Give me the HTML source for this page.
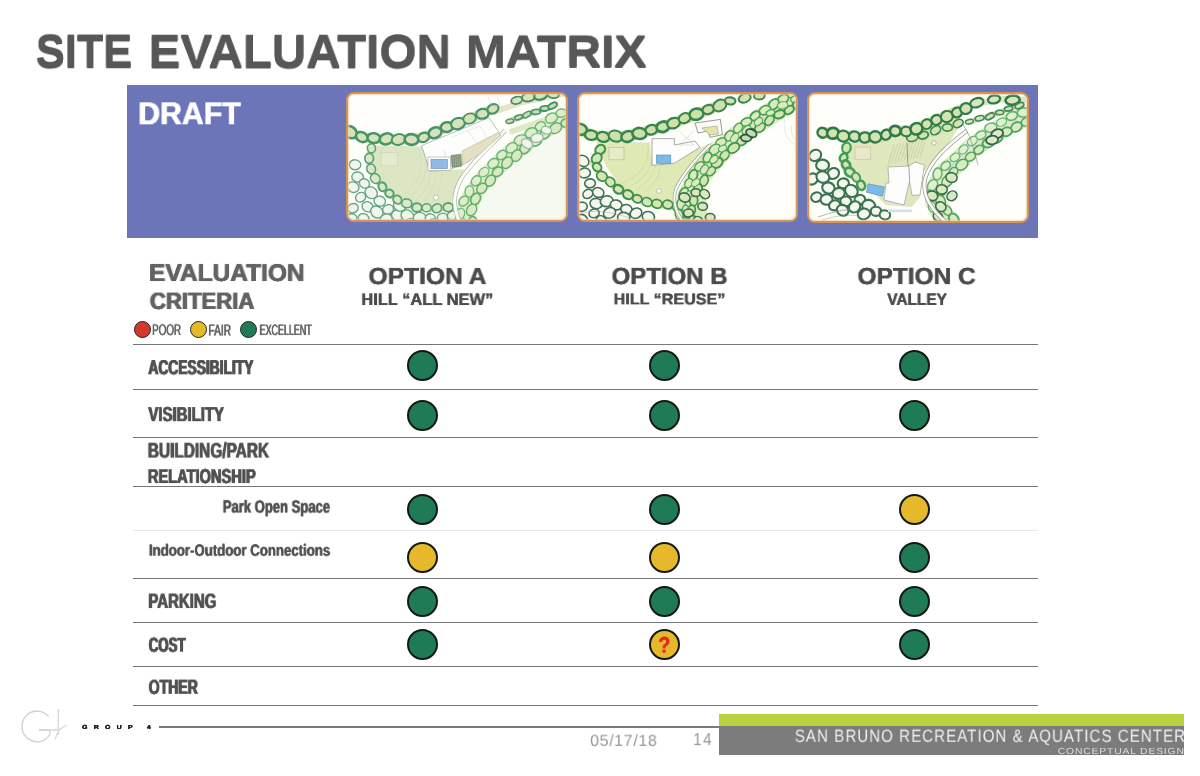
<!DOCTYPE html>
<html lang="en">
<head>
<meta charset="utf-8">
<title>Site Evaluation Matrix</title>
<style>
html,body{margin:0;padding:0;background:#ffffff;}
body{width:1200px;height:776px;overflow:hidden;font-family:"Liberation Sans",sans-serif;}
#page{position:relative;width:1200px;height:776px;background:#ffffff;overflow:hidden;}
.t{position:absolute;white-space:pre;line-height:1;transform-origin:0 0;font-family:"Liberation Sans",sans-serif;will-change:transform;text-rendering:geometricPrecision;}
.banner{position:absolute;left:126.7px;top:84.7px;width:911px;height:153px;background:#6b75b7;}
.thumb{position:absolute;width:221.8px;height:130.4px;box-sizing:border-box;border:2.4px solid #d3945c;border-radius:8px;background:#fefefb;overflow:hidden;}
.thumb:after{content:"";position:absolute;left:0;top:0;right:0;bottom:0;border-radius:5.6px;box-shadow:inset 0 0 1.6px 0.8px #f3d2a0;}
.hl{position:absolute;left:132.5px;width:905.5px;height:1.3px;background:#777777;}
.hl.faint{background:#e8e8e8;height:1px;}
.dot{position:absolute;width:31px;height:31px;box-sizing:border-box;border-radius:50%;border:2.2px solid #111a14;}
.g{background:#1f7b55;}
.y{background:#e6b92d;}
.r{background:#d2382c;}
.ldot{position:absolute;width:17.2px;height:17.2px;box-sizing:border-box;border-radius:50%;border:1.7px solid #24241a;}
</style>
</head>
<body>
<div id="page">
<div class="banner"></div>
<div class="thumb" style="left:346.3px;top:91.8px">
<svg style="position:absolute;left:-8.7px;top:-9.2px;filter:blur(0.35px)" width="240" height="145" viewBox="0 0 1200 725">
<polygon points="870,300 1140,150 1140,690 640,690 700,560 780,440" fill="#f5f9ef" stroke="none" stroke-width="0" />
<polygon points="130,300 432,308 452,432 620,420 600,480 565,560 548,612 470,626 364,610 250,550 182,445 140,360" fill="#dde6c3" stroke="none" stroke-width="0" />
<path d="M400 330 Q430 470 300 565" fill="none" stroke="#c6d1b2" stroke-width="2" stroke-linecap="butt" />
<path d="M428 340 Q452 480 340 571" fill="none" stroke="#c6d1b2" stroke-width="2" stroke-linecap="butt" />
<path d="M456 350 Q474 490 380 577" fill="none" stroke="#c6d1b2" stroke-width="2" stroke-linecap="butt" />
<path d="M484 360 Q496 500 420 583" fill="none" stroke="#c6d1b2" stroke-width="2" stroke-linecap="butt" />
<path d="M512 370 Q518 510 460 589" fill="none" stroke="#c6d1b2" stroke-width="2" stroke-linecap="butt" />
<path d="M50 238 L100 256 L160 268 L230 273 L300 274 L370 270 L420 258 L470 240 L520 218 L570 198 L620 180 L680 155 L730 135 L765 118" fill="none" stroke="#d3e1b8" stroke-width="50" stroke-linecap="round" stroke-linejoin="round" opacity="1"/>
<path d="M1120 168 L1060 195 L980 250 L900 310 L830 365 L770 420 L715 475 L672 535 L640 595 L625 650 L640 690" fill="none" stroke="#deebcc" stroke-width="96" stroke-linecap="round" stroke-linejoin="round" opacity="1"/>
<path d="M770 135 L900 88 L1110 45" fill="none" stroke="#e6e4c8" stroke-width="30" stroke-linecap="round" stroke-linejoin="round" opacity="1"/>
<path d="M850 180 L950 143 L1065 105" fill="none" stroke="#cbdbb0" stroke-width="30" stroke-linecap="round" stroke-linejoin="round" opacity="1"/>
<path d="M860 232 L980 190 L1125 140" fill="none" stroke="#dcebc6" stroke-width="30" stroke-linecap="round" stroke-linejoin="round" opacity="1"/>
<ellipse cx="75.5" cy="398.8" rx="28.7" ry="24.7" transform="rotate(4.8 75.5 398.8)" fill="#f1f6ea" stroke="#68a684" stroke-width="7"/>
<ellipse cx="88.1" cy="460.1" rx="29.1" ry="25" transform="rotate(7 88.1 460.1)" fill="#f1f6ea" stroke="#68a684" stroke-width="7"/>
<ellipse cx="65.6" cy="510.8" rx="29.9" ry="25.8" transform="rotate(23.4 65.6 510.8)" fill="#f1f6ea" stroke="#68a684" stroke-width="7"/>
<ellipse cx="122.2" cy="492.3" rx="26.2" ry="22.5" transform="rotate(24.8 122.2 492.3)" fill="#f1f6ea" stroke="#68a684" stroke-width="7"/>
<ellipse cx="155.9" cy="538.7" rx="32.4" ry="27.9" transform="rotate(37.2 155.9 538.7)" fill="#f1f6ea" stroke="#68a684" stroke-width="7"/>
<ellipse cx="103.2" cy="561.4" rx="26.6" ry="22.9" transform="rotate(-38.8 103.2 561.4)" fill="#f1f6ea" stroke="#68a684" stroke-width="7"/>
<ellipse cx="65.2" cy="615.8" rx="26.8" ry="23.1" transform="rotate(-20.6 65.2 615.8)" fill="#f1f6ea" stroke="#68a684" stroke-width="7"/>
<ellipse cx="138.1" cy="608.8" rx="28.6" ry="24.6" transform="rotate(27.4 138.1 608.8)" fill="#f1f6ea" stroke="#68a684" stroke-width="7"/>
<ellipse cx="198.7" cy="580.7" rx="29" ry="25" transform="rotate(13 198.7 580.7)" fill="#f1f6ea" stroke="#68a684" stroke-width="7"/>
<ellipse cx="184" cy="635.2" rx="32.5" ry="28" transform="rotate(39.7 184 635.2)" fill="#f1f6ea" stroke="#68a684" stroke-width="7"/>
<ellipse cx="240.7" cy="622.4" rx="27.7" ry="23.9" transform="rotate(-21.6 240.7 622.4)" fill="#f1f6ea" stroke="#68a684" stroke-width="7"/>
<ellipse cx="288.1" cy="650.3" rx="30.9" ry="26.6" transform="rotate(-8 288.1 650.3)" fill="#f1f6ea" stroke="#68a684" stroke-width="7"/>
<ellipse cx="337" cy="653.3" rx="32.2" ry="27.7" transform="rotate(27.8 337 653.3)" fill="#f1f6ea" stroke="#68a684" stroke-width="7"/>
<ellipse cx="397.9" cy="664.4" rx="31.9" ry="27.5" transform="rotate(-2.4 397.9 664.4)" fill="#f1f6ea" stroke="#68a684" stroke-width="7"/>
<ellipse cx="451.7" cy="666.6" rx="26" ry="22.4" transform="rotate(10.4 451.7 666.6)" fill="#f1f6ea" stroke="#68a684" stroke-width="7"/>
<ellipse cx="512.8" cy="663.5" rx="26.1" ry="22.5" transform="rotate(-13.4 512.8 663.5)" fill="#f1f6ea" stroke="#68a684" stroke-width="7"/>
<ellipse cx="562.6" cy="652.4" rx="26.3" ry="22.7" transform="rotate(-20.3 562.6 652.4)" fill="#f1f6ea" stroke="#68a684" stroke-width="7"/>
<ellipse cx="230.4" cy="671.7" rx="31.1" ry="26.8" transform="rotate(-25.8 230.4 671.7)" fill="#f1f6ea" stroke="#68a684" stroke-width="7"/>
<ellipse cx="117.8" cy="665.9" rx="26.8" ry="23.1" transform="rotate(18.6 117.8 665.9)" fill="#f1f6ea" stroke="#68a684" stroke-width="7"/>
<ellipse cx="58.3" cy="666.6" rx="26.3" ry="22.7" transform="rotate(-6.3 58.3 666.6)" fill="#f1f6ea" stroke="#68a684" stroke-width="7"/>
<ellipse cx="298.8" cy="602.3" rx="32.3" ry="27.8" transform="rotate(24.3 298.8 602.3)" fill="#f1f6ea" stroke="#68a684" stroke-width="7"/>
<ellipse cx="352.1" cy="690.9" rx="27" ry="23.3" transform="rotate(-8.5 352.1 690.9)" fill="#f1f6ea" stroke="#68a684" stroke-width="7"/>
<ellipse cx="468.3" cy="693.5" rx="26.2" ry="22.6" transform="rotate(39.1 468.3 693.5)" fill="#f1f6ea" stroke="#68a684" stroke-width="7"/>
<path d="M155 318 L145 370 L152 420 L180 465 L212 508 L252 548 L305 582 L364 606 L425 618 L486 618 L538 608" fill="none" stroke="#d9e6c3" stroke-width="36" stroke-linecap="round" stroke-linejoin="round" opacity="1"/>
<ellipse cx="157.2" cy="316.6" rx="22.8" ry="20" transform="rotate(83.8 157.2 316.6)" fill="#dbe8c6" stroke="#58a375" stroke-width="7.5"/>
<ellipse cx="145.9" cy="366.8" rx="24.6" ry="21.5" transform="rotate(95.8 145.9 366.8)" fill="#dbe8c6" stroke="#58a375" stroke-width="8.8"/>
<ellipse cx="155.7" cy="419.9" rx="24.4" ry="21.4" transform="rotate(72.8 155.7 419.9)" fill="#dbe8c6" stroke="#58a375" stroke-width="7.9"/>
<ellipse cx="176.6" cy="467.3" rx="25.8" ry="22.6" transform="rotate(48.1 176.6 467.3)" fill="#dbe8c6" stroke="#58a375" stroke-width="7.9"/>
<ellipse cx="212.1" cy="509.1" rx="22.3" ry="19.5" transform="rotate(71.3 212.1 509.1)" fill="#dbe8c6" stroke="#58a375" stroke-width="10.4"/>
<ellipse cx="247.3" cy="541.9" rx="21.7" ry="19" transform="rotate(26.5 247.3 541.9)" fill="#dbe8c6" stroke="#58a375" stroke-width="10.7"/>
<ellipse cx="286.9" cy="573.4" rx="22.6" ry="19.8" transform="rotate(45.6 286.9 573.4)" fill="#dbe8c6" stroke="#58a375" stroke-width="9.3"/>
<ellipse cx="333.7" cy="591.7" rx="25.3" ry="22.1" transform="rotate(4.9 333.7 591.7)" fill="#dbe8c6" stroke="#58a375" stroke-width="8"/>
<ellipse cx="384.9" cy="612.8" rx="24.7" ry="21.6" transform="rotate(2.3 384.9 612.8)" fill="#dbe8c6" stroke="#58a375" stroke-width="10.5"/>
<ellipse cx="433.1" cy="614.1" rx="22.7" ry="19.8" transform="rotate(-2.2 433.1 614.1)" fill="#dbe8c6" stroke="#58a375" stroke-width="7.4"/>
<ellipse cx="484.6" cy="616.7" rx="24.4" ry="21.4" transform="rotate(-25.6 484.6 616.7)" fill="#dbe8c6" stroke="#58a375" stroke-width="8.5"/>
<ellipse cx="541.1" cy="611.8" rx="24.9" ry="21.8" transform="rotate(-3.2 541.1 611.8)" fill="#dbe8c6" stroke="#58a375" stroke-width="9.3"/>
<ellipse cx="1106.5" cy="140.6" rx="26.5" ry="20.3" transform="rotate(172.1 1106.5 140.6)" fill="#dfedca" stroke="#6db877" stroke-width="7.6"/>
<ellipse cx="1057.6" cy="165.6" rx="31" ry="23.8" transform="rotate(154.9 1057.6 165.6)" fill="#dfedca" stroke="#6db877" stroke-width="7.6"/>
<ellipse cx="1001.6" cy="206.7" rx="26.9" ry="20.7" transform="rotate(147.4 1001.6 206.7)" fill="#dfedca" stroke="#6db877" stroke-width="7.7"/>
<ellipse cx="956.4" cy="239.5" rx="31.5" ry="24.1" transform="rotate(154.9 956.4 239.5)" fill="#dfedca" stroke="#6db877" stroke-width="8.2"/>
<ellipse cx="903.3" cy="275.6" rx="32.9" ry="25.2" transform="rotate(158 903.3 275.6)" fill="#dfedca" stroke="#6db877" stroke-width="6.8"/>
<ellipse cx="858.6" cy="314.2" rx="30.5" ry="23.4" transform="rotate(146.8 858.6 314.2)" fill="#dfedca" stroke="#6db877" stroke-width="6.7"/>
<ellipse cx="809.3" cy="350.2" rx="27" ry="20.7" transform="rotate(143.1 809.3 350.2)" fill="#dfedca" stroke="#6db877" stroke-width="8.4"/>
<ellipse cx="766.8" cy="392.3" rx="29.2" ry="22.4" transform="rotate(146.9 766.8 392.3)" fill="#dfedca" stroke="#6db877" stroke-width="7.2"/>
<ellipse cx="719.8" cy="435.7" rx="27" ry="20.7" transform="rotate(145 719.8 435.7)" fill="#dfedca" stroke="#6db877" stroke-width="5.7"/>
<ellipse cx="681.2" cy="478.6" rx="28.1" ry="21.5" transform="rotate(133.6 681.2 478.6)" fill="#dfedca" stroke="#6db877" stroke-width="7"/>
<ellipse cx="646.8" cy="532.2" rx="28.2" ry="21.7" transform="rotate(98.5 646.8 532.2)" fill="#dfedca" stroke="#6db877" stroke-width="6.4"/>
<ellipse cx="618.7" cy="580.2" rx="27.6" ry="21.2" transform="rotate(134.2 618.7 580.2)" fill="#dfedca" stroke="#6db877" stroke-width="7.4"/>
<ellipse cx="600.8" cy="644.4" rx="28.8" ry="22" transform="rotate(111.3 600.8 644.4)" fill="#dfedca" stroke="#6db877" stroke-width="6.2"/>
<ellipse cx="615.1" cy="701.6" rx="33" ry="25.3" transform="rotate(86.5 615.1 701.6)" fill="#dfedca" stroke="#6db877" stroke-width="6.7"/>
<ellipse cx="1130.5" cy="188.4" rx="26.5" ry="20.1" transform="rotate(155.8 1130.5 188.4)" fill="#d9e9c0" stroke="#60ae6b" stroke-width="9.1"/>
<ellipse cx="1078.1" cy="216" rx="32.1" ry="24.4" transform="rotate(147 1078.1 216)" fill="#d9e9c0" stroke="#60ae6b" stroke-width="6.9"/>
<ellipse cx="1025.4" cy="245.8" rx="27" ry="20.5" transform="rotate(142 1025.4 245.8)" fill="#d9e9c0" stroke="#60ae6b" stroke-width="8.4"/>
<ellipse cx="977.1" cy="280.7" rx="31.4" ry="23.8" transform="rotate(162.4 977.1 280.7)" fill="#d9e9c0" stroke="#60ae6b" stroke-width="7.8"/>
<ellipse cx="925.9" cy="314.3" rx="31.6" ry="24" transform="rotate(124.8 925.9 314.3)" fill="#d9e9c0" stroke="#60ae6b" stroke-width="8.7"/>
<ellipse cx="882.7" cy="353" rx="31" ry="23.5" transform="rotate(122.6 882.7 353)" fill="#d9e9c0" stroke="#60ae6b" stroke-width="6.8"/>
<ellipse cx="835.4" cy="388.4" rx="31.3" ry="23.7" transform="rotate(127 835.4 388.4)" fill="#d9e9c0" stroke="#60ae6b" stroke-width="6.9"/>
<ellipse cx="788.1" cy="433.6" rx="28.6" ry="21.7" transform="rotate(142.7 788.1 433.6)" fill="#d9e9c0" stroke="#60ae6b" stroke-width="8.5"/>
<ellipse cx="751.7" cy="478.3" rx="30.3" ry="23" transform="rotate(123 751.7 478.3)" fill="#d9e9c0" stroke="#60ae6b" stroke-width="7.9"/>
<ellipse cx="709.1" cy="516.8" rx="28.8" ry="21.9" transform="rotate(134.2 709.1 516.8)" fill="#d9e9c0" stroke="#60ae6b" stroke-width="7"/>
<ellipse cx="678" cy="569.9" rx="30.4" ry="23" transform="rotate(119 678 569.9)" fill="#d9e9c0" stroke="#60ae6b" stroke-width="8.4"/>
<ellipse cx="658.1" cy="624.7" rx="31" ry="23.5" transform="rotate(122.3 658.1 624.7)" fill="#d9e9c0" stroke="#60ae6b" stroke-width="6.7"/>
<ellipse cx="665.9" cy="683.4" rx="26.4" ry="20" transform="rotate(65 665.9 683.4)" fill="#d9e9c0" stroke="#60ae6b" stroke-width="8.4"/>
<ellipse cx="985.4" cy="264.3" rx="30.8" ry="22" transform="rotate(-9.9 985.4 264.3)" fill="#f1f6ea" stroke="#8fb59a" stroke-width="6"/>
<ellipse cx="934.8" cy="292.9" rx="30" ry="21.4" transform="rotate(35.5 934.8 292.9)" fill="#f1f6ea" stroke="#8fb59a" stroke-width="6"/>
<ellipse cx="1031.9" cy="225.8" rx="26" ry="18.6" transform="rotate(17.8 1031.9 225.8)" fill="#f1f6ea" stroke="#8fb59a" stroke-width="6"/>
<path d="M826 226 C760 300 640 400 600 480 C570 540 560 600 600 690" fill="none" stroke="#9fa8a0" stroke-width="22" stroke-linecap="butt" />
<path d="M826 226 C760 300 640 400 600 480 C570 540 560 600 600 690" fill="none" stroke="#fdfdf8" stroke-width="16" stroke-linecap="butt" />
<polygon points="408,303 745,163 803,250 640,385 548,424 450,432" fill="#fdfdfb" stroke="#8e9690" stroke-width="3" />
<polygon points="610,330 790,238 803,252 700,345 615,400" fill="#e4e1c2" stroke="#9a9f90" stroke-width="2" />
<path d="M520 330 L540 395" fill="none" stroke="#b5bbb5" stroke-width="2" stroke-linejoin="round" stroke-linecap="round" />
<path d="M560 260 L700 205 L740 270" fill="none" stroke="#c9cec9" stroke-width="2" stroke-linejoin="round" stroke-linecap="round" />
<path d="M640 230 L690 300" fill="none" stroke="#c9cec9" stroke-width="2" stroke-linejoin="round" stroke-linecap="round" />
<rect x="440" y="360" width="112" height="68" fill="#fdfdfb" stroke="#8e9690" stroke-width="2.5"/>
<rect x="455" y="372" width="82" height="46" fill="#8ebae4" stroke="#6d8fae" stroke-width="3"/>
<polygon points="555,352 605,345 610,405 560,412" fill="#9fb08f" stroke="#5c6b58" stroke-width="2" />
<path d="M560 352 L562 410" fill="none" stroke="#4f5b4b" stroke-width="2" stroke-linejoin="round" stroke-linecap="round" />
<path d="M570 352 L572 410" fill="none" stroke="#4f5b4b" stroke-width="2" stroke-linejoin="round" stroke-linecap="round" />
<path d="M580 352 L582 410" fill="none" stroke="#4f5b4b" stroke-width="2" stroke-linejoin="round" stroke-linecap="round" />
<path d="M590 352 L592 410" fill="none" stroke="#4f5b4b" stroke-width="2" stroke-linejoin="round" stroke-linecap="round" />
<path d="M600 352 L602 410" fill="none" stroke="#4f5b4b" stroke-width="2" stroke-linejoin="round" stroke-linecap="round" />
<ellipse cx="51.7" cy="235.7" rx="35.1" ry="27.4" transform="rotate(39 51.7 235.7)" fill="#d6e3ba" stroke="#48946a" stroke-width="13.1"/>
<ellipse cx="109.4" cy="260.1" rx="30.6" ry="23.9" transform="rotate(27.7 109.4 260.1)" fill="#d6e3ba" stroke="#48946a" stroke-width="12.6"/>
<ellipse cx="169.2" cy="265.4" rx="31.5" ry="24.6" transform="rotate(6.1 169.2 265.4)" fill="#d6e3ba" stroke="#48946a" stroke-width="12.2"/>
<ellipse cx="232.5" cy="269.3" rx="34.4" ry="26.9" transform="rotate(-16.6 232.5 269.3)" fill="#d6e3ba" stroke="#48946a" stroke-width="12.3"/>
<ellipse cx="292.4" cy="272.6" rx="34.2" ry="26.7" transform="rotate(-13.6 292.4 272.6)" fill="#d6e3ba" stroke="#48946a" stroke-width="9.5"/>
<ellipse cx="357.4" cy="272.5" rx="34.6" ry="27" transform="rotate(4.3 357.4 272.5)" fill="#d6e3ba" stroke="#48946a" stroke-width="13"/>
<ellipse cx="418.2" cy="262" rx="28.8" ry="22.5" transform="rotate(-24.6 418.2 262)" fill="#d6e3ba" stroke="#48946a" stroke-width="11.1"/>
<ellipse cx="475.2" cy="238.8" rx="33.1" ry="25.8" transform="rotate(-22.8 475.2 238.8)" fill="#d6e3ba" stroke="#48946a" stroke-width="12.5"/>
<ellipse cx="534.6" cy="210.8" rx="31.1" ry="24.3" transform="rotate(-8 534.6 210.8)" fill="#d6e3ba" stroke="#48946a" stroke-width="12.8"/>
<ellipse cx="590" cy="192.8" rx="35.6" ry="27.8" transform="rotate(-18.8 590 192.8)" fill="#d6e3ba" stroke="#48946a" stroke-width="11.3"/>
<ellipse cx="648.1" cy="167.6" rx="32" ry="25" transform="rotate(-18.4 648.1 167.6)" fill="#d6e3ba" stroke="#48946a" stroke-width="8.9"/>
<ellipse cx="712" cy="143.8" rx="31.2" ry="24.4" transform="rotate(-9.8 712 143.8)" fill="#d6e3ba" stroke="#48946a" stroke-width="11.3"/>
<ellipse cx="764.9" cy="119.5" rx="28.7" ry="22.4" transform="rotate(-24.4 764.9 119.5)" fill="#d6e3ba" stroke="#48946a" stroke-width="10.6"/>
<ellipse cx="883.7" cy="76.4" rx="28.3" ry="17.9" transform="rotate(-14.9 883.7 76.4)" fill="#d9e5c0" stroke="#3f8e61" stroke-width="8.5"/>
<ellipse cx="941.9" cy="61.3" rx="32.9" ry="20.8" transform="rotate(-8.4 941.9 61.3)" fill="#d9e5c0" stroke="#3f8e61" stroke-width="9.3"/>
<ellipse cx="1003.5" cy="51.9" rx="33.1" ry="20.9" transform="rotate(-15.7 1003.5 51.9)" fill="#d9e5c0" stroke="#3f8e61" stroke-width="11.1"/>
<ellipse cx="1066.2" cy="47.6" rx="28" ry="17.8" transform="rotate(6.6 1066.2 47.6)" fill="#d9e5c0" stroke="#3f8e61" stroke-width="9.3"/>
<ellipse cx="848.8" cy="181" rx="19.9" ry="10.9" transform="rotate(-11.1 848.8 181)" fill="#cbdbb0" stroke="#47936a" stroke-width="6.8"/>
<ellipse cx="892.8" cy="162.2" rx="20.4" ry="11.1" transform="rotate(-19.1 892.8 162.2)" fill="#cbdbb0" stroke="#47936a" stroke-width="7.8"/>
<ellipse cx="934.4" cy="147.7" rx="22.2" ry="12.1" transform="rotate(-33.9 934.4 147.7)" fill="#cbdbb0" stroke="#47936a" stroke-width="7.1"/>
<ellipse cx="979.6" cy="134.7" rx="22.2" ry="12.1" transform="rotate(-4.2 979.6 134.7)" fill="#cbdbb0" stroke="#47936a" stroke-width="8.4"/>
<ellipse cx="1024.6" cy="117.2" rx="23.3" ry="12.7" transform="rotate(-5.9 1024.6 117.2)" fill="#cbdbb0" stroke="#47936a" stroke-width="9.3"/>
<ellipse cx="1063.5" cy="103.5" rx="24.2" ry="13.2" transform="rotate(-29.6 1063.5 103.5)" fill="#cbdbb0" stroke="#47936a" stroke-width="9.6"/>
<circle cx="480" cy="563" r="13" fill="#fdfdfb" stroke="#9aa59a" stroke-width="3"/>
<rect x="205" y="338" width="82" height="66" fill="#e6ead0" stroke="#d5c8bc" stroke-width="3"/>
<path d="M740 60 L760 110 L800 100 L785 55" fill="none" stroke="#c5cac5" stroke-width="2" stroke-linejoin="round" stroke-linecap="round" />
</svg>
</div>
<div class="thumb" style="left:576.6px;top:91.8px">
<svg style="position:absolute;left:-9.0px;top:-9.2px;filter:blur(0.35px)" width="240" height="145" viewBox="0 0 1200 725">
<polygon points="130,285 400,288 410,400 520,395 620,330 720,280 650,400 565,470 525,545 505,615 420,605 330,565 240,495 178,400" fill="#dfe9b6" stroke="none" stroke-width="0" />
<path d="M390 300 Q400 440 260 490" fill="none" stroke="#bccb98" stroke-width="2" stroke-linecap="butt" />
<path d="M414 314 Q420 450 300 504" fill="none" stroke="#bccb98" stroke-width="2" stroke-linecap="butt" />
<path d="M438 328 Q440 460 340 518" fill="none" stroke="#bccb98" stroke-width="2" stroke-linecap="butt" />
<path d="M462 342 Q460 470 380 532" fill="none" stroke="#bccb98" stroke-width="2" stroke-linecap="butt" />
<path d="M50 225 L110 250 L170 258 L230 258 L290 255 L350 240 L410 225 L470 205 L530 185 L590 165 L650 140 L700 120 L745 103" fill="none" stroke="#d3e3a6" stroke-width="54" stroke-linecap="round" stroke-linejoin="round" opacity="1"/>
<path d="M1125 68 L1060 108 L990 150 L915 200 L840 255 L770 315 L715 375 L665 435 L620 500 L590 565 L575 630 L590 690" fill="none" stroke="#dcebbc" stroke-width="110" stroke-linecap="round" stroke-linejoin="round" opacity="1"/>
<path d="M640 560 L650 690" fill="none" stroke="#dcebbc" stroke-width="80" stroke-linecap="round" stroke-linejoin="round" opacity="1"/>
<ellipse cx="64.4" cy="379.5" rx="32" ry="26.4" transform="rotate(35.9 64.4 379.5)" fill="#f3f7ec" stroke="#41705a" stroke-width="8"/>
<ellipse cx="72.2" cy="439.8" rx="29.6" ry="24.5" transform="rotate(-6.1 72.2 439.8)" fill="#f3f7ec" stroke="#41705a" stroke-width="8"/>
<ellipse cx="100.3" cy="491.7" rx="26.9" ry="22.2" transform="rotate(-4.4 100.3 491.7)" fill="#f3f7ec" stroke="#41705a" stroke-width="8"/>
<ellipse cx="89.3" cy="544.5" rx="25.7" ry="21.3" transform="rotate(-33.1 89.3 544.5)" fill="#f3f7ec" stroke="#41705a" stroke-width="8"/>
<ellipse cx="141.2" cy="537.3" rx="29.1" ry="24.1" transform="rotate(18.7 141.2 537.3)" fill="#f3f7ec" stroke="#41705a" stroke-width="8"/>
<ellipse cx="130.9" cy="592.7" rx="31" ry="25.6" transform="rotate(7.1 130.9 592.7)" fill="#f3f7ec" stroke="#41705a" stroke-width="8"/>
<ellipse cx="183.6" cy="581.2" rx="32.3" ry="26.7" transform="rotate(-11 183.6 581.2)" fill="#f3f7ec" stroke="#41705a" stroke-width="8"/>
<ellipse cx="230.9" cy="599.5" rx="29.5" ry="24.4" transform="rotate(12.8 230.9 599.5)" fill="#f3f7ec" stroke="#41705a" stroke-width="8"/>
<ellipse cx="282.5" cy="621.7" rx="28.8" ry="23.9" transform="rotate(17.4 282.5 621.7)" fill="#f3f7ec" stroke="#41705a" stroke-width="8"/>
<ellipse cx="330.1" cy="640.9" rx="30" ry="24.8" transform="rotate(-25.4 330.1 640.9)" fill="#f3f7ec" stroke="#41705a" stroke-width="8"/>
<ellipse cx="197.7" cy="639.6" rx="31.2" ry="25.8" transform="rotate(-24.4 197.7 639.6)" fill="#f3f7ec" stroke="#41705a" stroke-width="8"/>
<ellipse cx="120.4" cy="641.9" rx="25.8" ry="21.3" transform="rotate(-18 120.4 641.9)" fill="#f3f7ec" stroke="#41705a" stroke-width="8"/>
<ellipse cx="58.7" cy="608.8" rx="27.8" ry="23" transform="rotate(-10.4 58.7 608.8)" fill="#f3f7ec" stroke="#41705a" stroke-width="8"/>
<ellipse cx="268.6" cy="662.6" rx="30.9" ry="25.6" transform="rotate(3.9 268.6 662.6)" fill="#f3f7ec" stroke="#41705a" stroke-width="8"/>
<ellipse cx="392" cy="658.4" rx="31" ry="25.6" transform="rotate(16.6 392 658.4)" fill="#f3f7ec" stroke="#41705a" stroke-width="8"/>
<ellipse cx="60.6" cy="672.7" rx="29.3" ry="24.3" transform="rotate(33.5 60.6 672.7)" fill="#f3f7ec" stroke="#41705a" stroke-width="8"/>
<ellipse cx="157.3" cy="677.5" rx="26.7" ry="22.1" transform="rotate(38 157.3 677.5)" fill="#f3f7ec" stroke="#41705a" stroke-width="8"/>
<path d="M155 321 L118 388 L150 442 L198 485 L248 522 L300 552 L355 578 L420 594 L480 600 L535 612 L580 640" fill="none" stroke="#d5e6ae" stroke-width="40" stroke-linecap="round" stroke-linejoin="round" opacity="1"/>
<ellipse cx="151.2" cy="323.5" rx="26.1" ry="21.9" transform="rotate(137.9 151.2 323.5)" fill="#d5e6b0" stroke="#3f9150" stroke-width="11.2"/>
<ellipse cx="133.5" cy="366.8" rx="27.9" ry="23.5" transform="rotate(128.9 133.5 366.8)" fill="#d5e6b0" stroke="#3f9150" stroke-width="9.4"/>
<ellipse cx="135.7" cy="410.5" rx="23.2" ry="19.5" transform="rotate(42.4 135.7 410.5)" fill="#d5e6b0" stroke="#3f9150" stroke-width="9.9"/>
<ellipse cx="159.9" cy="456.5" rx="27.7" ry="23.3" transform="rotate(30.5 159.9 456.5)" fill="#d5e6b0" stroke="#3f9150" stroke-width="8.4"/>
<ellipse cx="201.5" cy="484.8" rx="25.3" ry="21.2" transform="rotate(49 201.5 484.8)" fill="#d5e6b0" stroke="#3f9150" stroke-width="9"/>
<ellipse cx="242.4" cy="521.5" rx="24.7" ry="20.7" transform="rotate(30.2 242.4 521.5)" fill="#d5e6b0" stroke="#3f9150" stroke-width="11.6"/>
<ellipse cx="290.1" cy="548" rx="26.1" ry="21.9" transform="rotate(26.5 290.1 548)" fill="#d5e6b0" stroke="#3f9150" stroke-width="10.8"/>
<ellipse cx="336.7" cy="569.2" rx="23.4" ry="19.7" transform="rotate(17.1 336.7 569.2)" fill="#d5e6b0" stroke="#3f9150" stroke-width="9.6"/>
<ellipse cx="385.1" cy="585.3" rx="25.3" ry="21.3" transform="rotate(26.9 385.1 585.3)" fill="#d5e6b0" stroke="#3f9150" stroke-width="8.4"/>
<ellipse cx="434.7" cy="594" rx="25.4" ry="21.3" transform="rotate(19.1 434.7 594)" fill="#d5e6b0" stroke="#3f9150" stroke-width="9"/>
<ellipse cx="488.9" cy="597.8" rx="25.4" ry="21.3" transform="rotate(14 488.9 597.8)" fill="#d5e6b0" stroke="#3f9150" stroke-width="8.9"/>
<ellipse cx="536.4" cy="612.3" rx="24.7" ry="20.7" transform="rotate(40.6 536.4 612.3)" fill="#d5e6b0" stroke="#3f9150" stroke-width="8"/>
<ellipse cx="579" cy="642.3" rx="22.9" ry="19.2" transform="rotate(46.6 579 642.3)" fill="#d5e6b0" stroke="#3f9150" stroke-width="8.8"/>
<ellipse cx="1110.7" cy="39.8" rx="27.7" ry="19.8" transform="rotate(145.3 1110.7 39.8)" fill="#dbebba" stroke="#45a058" stroke-width="6.7"/>
<ellipse cx="1065.3" cy="70.3" rx="29.3" ry="20.9" transform="rotate(150 1065.3 70.3)" fill="#dbebba" stroke="#45a058" stroke-width="8.2"/>
<ellipse cx="1018.2" cy="96.6" rx="30.7" ry="21.9" transform="rotate(132.5 1018.2 96.6)" fill="#dbebba" stroke="#45a058" stroke-width="9.2"/>
<ellipse cx="975" cy="125.9" rx="29.9" ry="21.3" transform="rotate(153.2 975 125.9)" fill="#dbebba" stroke="#45a058" stroke-width="8.3"/>
<ellipse cx="925.9" cy="154.1" rx="27" ry="19.3" transform="rotate(138.4 925.9 154.1)" fill="#dbebba" stroke="#45a058" stroke-width="9.5"/>
<ellipse cx="882.2" cy="185" rx="27.5" ry="19.6" transform="rotate(156.4 882.2 185)" fill="#dbebba" stroke="#45a058" stroke-width="7.9"/>
<ellipse cx="840.8" cy="215.6" rx="26.5" ry="18.9" transform="rotate(127.3 840.8 215.6)" fill="#dbebba" stroke="#45a058" stroke-width="7.1"/>
<ellipse cx="796.7" cy="253.8" rx="28" ry="20" transform="rotate(123.8 796.7 253.8)" fill="#dbebba" stroke="#45a058" stroke-width="7.9"/>
<ellipse cx="755" cy="286.4" rx="27.6" ry="19.7" transform="rotate(153.7 755 286.4)" fill="#dbebba" stroke="#45a058" stroke-width="7.2"/>
<ellipse cx="723.7" cy="322.2" rx="31.2" ry="22.3" transform="rotate(137.9 723.7 322.2)" fill="#dbebba" stroke="#45a058" stroke-width="6.5"/>
<ellipse cx="687.5" cy="362.3" rx="27.1" ry="19.3" transform="rotate(115.7 687.5 362.3)" fill="#dbebba" stroke="#45a058" stroke-width="9.1"/>
<ellipse cx="647.6" cy="407.1" rx="27.3" ry="19.5" transform="rotate(137 647.6 407.1)" fill="#dbebba" stroke="#45a058" stroke-width="7.3"/>
<ellipse cx="616" cy="451.7" rx="29" ry="20.7" transform="rotate(111.4 616 451.7)" fill="#dbebba" stroke="#45a058" stroke-width="9.5"/>
<ellipse cx="593.5" cy="490.6" rx="24.8" ry="17.7" transform="rotate(119.2 593.5 490.6)" fill="#dbebba" stroke="#45a058" stroke-width="6.8"/>
<ellipse cx="569.7" cy="541.5" rx="29.4" ry="21" transform="rotate(117.5 569.7 541.5)" fill="#dbebba" stroke="#45a058" stroke-width="8.9"/>
<ellipse cx="555.8" cy="593.8" rx="28.6" ry="20.4" transform="rotate(95.6 555.8 593.8)" fill="#dbebba" stroke="#45a058" stroke-width="6.8"/>
<ellipse cx="545.3" cy="648" rx="26" ry="18.6" transform="rotate(73.8 545.3 648)" fill="#dbebba" stroke="#45a058" stroke-width="7.4"/>
<ellipse cx="561.9" cy="697.5" rx="30.4" ry="21.7" transform="rotate(74.1 561.9 697.5)" fill="#dbebba" stroke="#45a058" stroke-width="7.6"/>
<ellipse cx="1140.9" cy="93.8" rx="30.9" ry="22" transform="rotate(140.9 1140.9 93.8)" fill="#d3e6ae" stroke="#3d9550" stroke-width="10.4"/>
<ellipse cx="1096" cy="124.9" rx="25.5" ry="18.2" transform="rotate(143.6 1096 124.9)" fill="#d3e6ae" stroke="#3d9550" stroke-width="10"/>
<ellipse cx="1047.1" cy="146.3" rx="27.3" ry="19.5" transform="rotate(158 1047.1 146.3)" fill="#d3e6ae" stroke="#3d9550" stroke-width="9.9"/>
<ellipse cx="997.1" cy="176.8" rx="27.4" ry="19.6" transform="rotate(128.7 997.1 176.8)" fill="#d3e6ae" stroke="#3d9550" stroke-width="8.3"/>
<ellipse cx="949.9" cy="212.6" rx="28.6" ry="20.4" transform="rotate(142.9 949.9 212.6)" fill="#d3e6ae" stroke="#3d9550" stroke-width="8.1"/>
<ellipse cx="903.4" cy="243.5" rx="27.6" ry="19.7" transform="rotate(130.7 903.4 243.5)" fill="#d3e6ae" stroke="#3d9550" stroke-width="10.2"/>
<ellipse cx="860.5" cy="278.9" rx="28.2" ry="20.2" transform="rotate(148.7 860.5 278.9)" fill="#d3e6ae" stroke="#3d9550" stroke-width="8.7"/>
<ellipse cx="818.2" cy="314.6" rx="31.2" ry="22.3" transform="rotate(145.9 818.2 314.6)" fill="#d3e6ae" stroke="#3d9550" stroke-width="8.7"/>
<ellipse cx="773.1" cy="351.9" rx="27.3" ry="19.5" transform="rotate(127.8 773.1 351.9)" fill="#d3e6ae" stroke="#3d9550" stroke-width="7.4"/>
<ellipse cx="735.2" cy="389.4" rx="31.2" ry="22.3" transform="rotate(142.1 735.2 389.4)" fill="#d3e6ae" stroke="#3d9550" stroke-width="9.8"/>
<ellipse cx="704.4" cy="431.2" rx="25.8" ry="18.4" transform="rotate(133.9 704.4 431.2)" fill="#d3e6ae" stroke="#3d9550" stroke-width="7.4"/>
<ellipse cx="670.2" cy="477.7" rx="28.3" ry="20.2" transform="rotate(109.6 670.2 477.7)" fill="#d3e6ae" stroke="#3d9550" stroke-width="7.4"/>
<ellipse cx="639.2" cy="521.5" rx="29" ry="20.7" transform="rotate(107.2 639.2 521.5)" fill="#d3e6ae" stroke="#3d9550" stroke-width="9.4"/>
<ellipse cx="618.2" cy="575.9" rx="28.2" ry="20.2" transform="rotate(91.4 618.2 575.9)" fill="#d3e6ae" stroke="#3d9550" stroke-width="8.4"/>
<ellipse cx="607" cy="627.4" rx="26.6" ry="19" transform="rotate(103.3 607 627.4)" fill="#d3e6ae" stroke="#3d9550" stroke-width="9.2"/>
<ellipse cx="619.5" cy="681.6" rx="31.1" ry="22.2" transform="rotate(56 619.5 681.6)" fill="#d3e6ae" stroke="#3d9550" stroke-width="10"/>
<ellipse cx="1124.5" cy="69.5" rx="22" ry="14.7" transform="rotate(156 1124.5 69.5)" fill="#dcebbc" stroke="#4aa65c" stroke-width="7.1"/>
<ellipse cx="1063.2" cy="101.4" rx="26.4" ry="17.6" transform="rotate(167.2 1063.2 101.4)" fill="#dcebbc" stroke="#4aa65c" stroke-width="5.1"/>
<ellipse cx="1002" cy="138.7" rx="21.6" ry="14.4" transform="rotate(160.9 1002 138.7)" fill="#dcebbc" stroke="#4aa65c" stroke-width="6.5"/>
<ellipse cx="942.1" cy="183" rx="24.1" ry="16" transform="rotate(137.2 942.1 183)" fill="#dcebbc" stroke="#4aa65c" stroke-width="6.2"/>
<ellipse cx="882.9" cy="225.1" rx="26.2" ry="17.4" transform="rotate(131.6 882.9 225.1)" fill="#dcebbc" stroke="#4aa65c" stroke-width="6.6"/>
<ellipse cx="823.1" cy="265" rx="25.8" ry="17.2" transform="rotate(126.4 823.1 265)" fill="#dcebbc" stroke="#4aa65c" stroke-width="5.3"/>
<ellipse cx="762.7" cy="317.5" rx="21.9" ry="14.6" transform="rotate(151.5 762.7 317.5)" fill="#dcebbc" stroke="#4aa65c" stroke-width="4.8"/>
<ellipse cx="719.5" cy="372" rx="24.4" ry="16.3" transform="rotate(135.4 719.5 372)" fill="#dcebbc" stroke="#4aa65c" stroke-width="6.7"/>
<ellipse cx="671.2" cy="422.8" rx="25.7" ry="17.1" transform="rotate(124 671.2 422.8)" fill="#dcebbc" stroke="#4aa65c" stroke-width="6.2"/>
<ellipse cx="628" cy="488.3" rx="23.5" ry="15.7" transform="rotate(138.8 628 488.3)" fill="#dcebbc" stroke="#4aa65c" stroke-width="5"/>
<ellipse cx="593.4" cy="551.1" rx="24.6" ry="16.4" transform="rotate(128.1 593.4 551.1)" fill="#dcebbc" stroke="#4aa65c" stroke-width="5.3"/>
<ellipse cx="577.8" cy="622.1" rx="21.9" ry="14.6" transform="rotate(88.6 577.8 622.1)" fill="#dcebbc" stroke="#4aa65c" stroke-width="6.2"/>
<ellipse cx="591.9" cy="691.4" rx="23.6" ry="15.7" transform="rotate(76.3 591.9 691.4)" fill="#dcebbc" stroke="#4aa65c" stroke-width="6.7"/>
<ellipse cx="880.6" cy="264.6" rx="26.1" ry="17.1" transform="rotate(2.9 880.6 264.6)" fill="#c9dcb0" stroke="#2d5a44" stroke-width="9"/>
<ellipse cx="906.6" cy="240.6" rx="27.9" ry="18.2" transform="rotate(27.1 906.6 240.6)" fill="#c9dcb0" stroke="#2d5a44" stroke-width="9"/>
<ellipse cx="572.7" cy="562.5" rx="28" ry="22.6" transform="rotate(17.5 572.7 562.5)" fill="#d9e9be" stroke="#3a6c50" stroke-width="8"/>
<ellipse cx="629.1" cy="538.2" rx="23.7" ry="19.1" transform="rotate(0.7 629.1 538.2)" fill="#d9e9be" stroke="#3a6c50" stroke-width="8"/>
<ellipse cx="673.6" cy="545.6" rx="26" ry="21" transform="rotate(38.7 673.6 545.6)" fill="#d9e9be" stroke="#3a6c50" stroke-width="8"/>
<ellipse cx="592.3" cy="639.8" rx="24.4" ry="19.7" transform="rotate(-10.4 592.3 639.8)" fill="#d9e9be" stroke="#3a6c50" stroke-width="8"/>
<ellipse cx="663.5" cy="607.2" rx="23.9" ry="19.3" transform="rotate(4 663.5 607.2)" fill="#d9e9be" stroke="#3a6c50" stroke-width="8"/>
<ellipse cx="641.7" cy="681.4" rx="26.6" ry="21.5" transform="rotate(39.3 641.7 681.4)" fill="#d9e9be" stroke="#3a6c50" stroke-width="8"/>
<ellipse cx="700.8" cy="661.6" rx="23.8" ry="19.2" transform="rotate(4.9 700.8 661.6)" fill="#d9e9be" stroke="#3a6c50" stroke-width="8"/>
<path d="M700 300 C620 380 560 450 530 520 C510 580 530 640 570 690" fill="none" stroke="#8f988f" stroke-width="16" stroke-linecap="butt" />
<path d="M700 300 C620 380 560 450 530 520 C510 580 530 640 570 690" fill="none" stroke="#fdfdf8" stroke-width="10" stroke-linecap="butt" />
<polygon points="410,268 522,268 522,300 625,280 650,312 520,392 410,402" fill="#fdfdfb" stroke="#6e746e" stroke-width="3" />
<polygon points="625,190 752,172 762,248 700,262 690,230 640,240" fill="#fbfbf3" stroke="#555c55" stroke-width="3" />
<polygon points="660,215 735,205 742,245 700,250" fill="#dfe6a8" stroke="#6e746e" stroke-width="2" />
<path d="M545 230 L620 300 L545 300 L620 230" fill="none" stroke="#b8bdb8" stroke-width="2" stroke-linejoin="round" stroke-linecap="round" />
<rect x="432" y="350" width="72" height="42" fill="#7db8ea" stroke="#5c88b0" stroke-width="3"/>
<ellipse cx="49.6" cy="221.4" rx="35.3" ry="27.6" transform="rotate(13.2 49.6 221.4)" fill="#cfe0a8" stroke="#37864f" stroke-width="13.1"/>
<ellipse cx="105.6" cy="250.5" rx="30.8" ry="24" transform="rotate(6.3 105.6 250.5)" fill="#cfe0a8" stroke="#37864f" stroke-width="11.7"/>
<ellipse cx="165.3" cy="259.7" rx="31.3" ry="24.4" transform="rotate(14.3 165.3 259.7)" fill="#cfe0a8" stroke="#37864f" stroke-width="11.4"/>
<ellipse cx="227.8" cy="255.4" rx="34.9" ry="27.3" transform="rotate(17.8 227.8 255.4)" fill="#cfe0a8" stroke="#37864f" stroke-width="9.7"/>
<ellipse cx="289.3" cy="257.4" rx="33.5" ry="26.2" transform="rotate(-18.6 289.3 257.4)" fill="#cfe0a8" stroke="#37864f" stroke-width="13.1"/>
<ellipse cx="347.4" cy="242.2" rx="35.6" ry="27.8" transform="rotate(3.8 347.4 242.2)" fill="#cfe0a8" stroke="#37864f" stroke-width="12.6"/>
<ellipse cx="407.3" cy="223.7" rx="30.5" ry="23.8" transform="rotate(-12.8 407.3 223.7)" fill="#cfe0a8" stroke="#37864f" stroke-width="12.1"/>
<ellipse cx="465" cy="208.9" rx="32.9" ry="25.7" transform="rotate(-13.6 465 208.9)" fill="#cfe0a8" stroke="#37864f" stroke-width="14.1"/>
<ellipse cx="518" cy="190.6" rx="32.8" ry="25.6" transform="rotate(-22.3 518 190.6)" fill="#cfe0a8" stroke="#37864f" stroke-width="11.2"/>
<ellipse cx="573.4" cy="165.7" rx="30.7" ry="24" transform="rotate(-26.4 573.4 165.7)" fill="#cfe0a8" stroke="#37864f" stroke-width="10"/>
<ellipse cx="632.3" cy="146.1" rx="35.3" ry="27.6" transform="rotate(-11.4 632.3 146.1)" fill="#cfe0a8" stroke="#37864f" stroke-width="12.8"/>
<ellipse cx="691.3" cy="122.8" rx="29.1" ry="22.7" transform="rotate(-17.4 691.3 122.8)" fill="#cfe0a8" stroke="#37864f" stroke-width="10.7"/>
<ellipse cx="748.9" cy="102.4" rx="35" ry="27.3" transform="rotate(-30.9 748.9 102.4)" fill="#cfe0a8" stroke="#37864f" stroke-width="10"/>
<ellipse cx="801" cy="79.5" rx="26.4" ry="17.9" transform="rotate(4.2 801 79.5)" fill="#d3e3ae" stroke="#37864f" stroke-width="10.7"/>
<ellipse cx="873.4" cy="65.6" rx="31.2" ry="21.2" transform="rotate(-21.7 873.4 65.6)" fill="#d3e3ae" stroke="#37864f" stroke-width="9.8"/>
<ellipse cx="947" cy="53.9" rx="26.9" ry="18.3" transform="rotate(-5.9 947 53.9)" fill="#d3e3ae" stroke="#37864f" stroke-width="9.3"/>
<circle cx="445" cy="530" r="12" fill="#fdfdfb" stroke="#9aa59a" stroke-width="3"/>
<rect x="195" y="312" width="75" height="62" fill="#e6edc4" stroke="#b9b0a0" stroke-width="3"/>
<path d="M1075 170 C1060 230 1090 290 1135 300" fill="none" stroke="#c4c8c4" stroke-width="2" stroke-linecap="butt" />
<path d="M1110 200 C1100 240 1115 270 1135 275" fill="none" stroke="#c4c8c4" stroke-width="2" stroke-linecap="butt" />
<path d="M60 640 C140 620 220 640 300 665" fill="none" stroke="#8f988f" stroke-width="2" stroke-linecap="butt" />
</svg>
</div>
<div class="thumb" style="left:806.8px;top:92.2px">
<svg style="position:absolute;left:-9.2px;top:-9.6px;filter:blur(0.35px)" width="240" height="145" viewBox="0 0 1200 725">
<polygon points="200,298 440,270 560,250 800,200 740,300 660,390 615,440 600,560 560,610 430,600 330,505 290,455 245,395" fill="#dfe8bd" stroke="none" stroke-width="0" />
<path d="M470 300 L440 400" fill="none" stroke="#a9b68c" stroke-width="2" stroke-linejoin="round" stroke-linecap="round" />
<path d="M486 297 L456 396" fill="none" stroke="#a9b68c" stroke-width="2" stroke-linejoin="round" stroke-linecap="round" />
<path d="M502 294 L472 392" fill="none" stroke="#a9b68c" stroke-width="2" stroke-linejoin="round" stroke-linecap="round" />
<path d="M518 291 L488 388" fill="none" stroke="#a9b68c" stroke-width="2" stroke-linejoin="round" stroke-linecap="round" />
<path d="M534 288 L504 384" fill="none" stroke="#a9b68c" stroke-width="2" stroke-linejoin="round" stroke-linecap="round" />
<path d="M550 285 L520 380" fill="none" stroke="#a9b68c" stroke-width="2" stroke-linejoin="round" stroke-linecap="round" />
<path d="M566 282 L536 376" fill="none" stroke="#a9b68c" stroke-width="2" stroke-linejoin="round" stroke-linecap="round" />
<path d="M582 279 L552 372" fill="none" stroke="#a9b68c" stroke-width="2" stroke-linejoin="round" stroke-linecap="round" />
<path d="M598 276 L568 368" fill="none" stroke="#a9b68c" stroke-width="2" stroke-linejoin="round" stroke-linecap="round" />
<path d="M614 273 L584 364" fill="none" stroke="#a9b68c" stroke-width="2" stroke-linejoin="round" stroke-linecap="round" />
<path d="M630 270 L600 360" fill="none" stroke="#a9b68c" stroke-width="2" stroke-linejoin="round" stroke-linecap="round" />
<path d="M112 235 L172 246 L232 255 L292 259 L352 262 L412 262 L470 228 L540 232 L600 210 L660 186 L720 160 L780 136 L832 114" fill="none" stroke="#d4e4b0" stroke-width="56" stroke-linecap="round" stroke-linejoin="round" opacity="1"/>
<path d="M560 262 L680 228 L790 190" fill="none" stroke="#d2e2ae" stroke-width="50" stroke-linecap="round" stroke-linejoin="round" opacity="1"/>
<path d="M1125 160 L1037 199 L941 260 L854 320 L793 381 L724 442 L684 512 L676 581 L715 651 L750 690" fill="none" stroke="#dcecc6" stroke-width="104" stroke-linecap="round" stroke-linejoin="round" opacity="1"/>
<path d="M850 185 L960 150 L1095 100" fill="none" stroke="#d6e2b4" stroke-width="30" stroke-linecap="round" stroke-linejoin="round" opacity="1"/>
<path d="M880 95 L1000 70 L1120 75" fill="none" stroke="#dce8c0" stroke-width="32" stroke-linecap="round" stroke-linejoin="round" opacity="1"/>
<path d="M900 250 C850 300 790 360 750 420" fill="none" stroke="#b4d6ea" stroke-width="12" stroke-linecap="butt" opacity="0.8"/>
<ellipse cx="75.7" cy="352.1" rx="31.3" ry="27.1" transform="rotate(-32.7 75.7 352.1)" fill="#f3f7ec" stroke="#3a7252" stroke-width="10.5"/>
<ellipse cx="112.8" cy="401.2" rx="32.4" ry="28.1" transform="rotate(1.2 112.8 401.2)" fill="#f3f7ec" stroke="#3a7252" stroke-width="10.5"/>
<ellipse cx="166.1" cy="442.6" rx="30.2" ry="26.2" transform="rotate(-31.4 166.1 442.6)" fill="#f3f7ec" stroke="#3a7252" stroke-width="10.5"/>
<ellipse cx="216.4" cy="491.7" rx="28.4" ry="24.6" transform="rotate(-9.7 216.4 491.7)" fill="#f3f7ec" stroke="#3a7252" stroke-width="10.5"/>
<ellipse cx="257" cy="529.5" rx="33.3" ry="28.9" transform="rotate(37.7 257 529.5)" fill="#f3f7ec" stroke="#3a7252" stroke-width="10.5"/>
<ellipse cx="299.2" cy="573.2" rx="26.9" ry="23.3" transform="rotate(-16.9 299.2 573.2)" fill="#f3f7ec" stroke="#3a7252" stroke-width="10.5"/>
<ellipse cx="342.8" cy="602.4" rx="32.4" ry="28" transform="rotate(5 342.8 602.4)" fill="#f3f7ec" stroke="#3a7252" stroke-width="10.5"/>
<ellipse cx="380.3" cy="631.5" rx="26.6" ry="23.1" transform="rotate(2.1 380.3 631.5)" fill="#f3f7ec" stroke="#3a7252" stroke-width="10.5"/>
<ellipse cx="424.5" cy="649.4" rx="26.5" ry="22.9" transform="rotate(12.5 424.5 649.4)" fill="#f3f7ec" stroke="#3a7252" stroke-width="10.5"/>
<ellipse cx="61.1" cy="470" rx="30.6" ry="26.5" transform="rotate(-38.1 61.1 470)" fill="#f3f7ec" stroke="#3a7252" stroke-width="10.5"/>
<ellipse cx="114.4" cy="460.3" rx="32.6" ry="28.3" transform="rotate(18.2 114.4 460.3)" fill="#f3f7ec" stroke="#3a7252" stroke-width="10.5"/>
<ellipse cx="142.1" cy="514.5" rx="31.6" ry="27.4" transform="rotate(16 142.1 514.5)" fill="#f3f7ec" stroke="#3a7252" stroke-width="10.5"/>
<ellipse cx="193.3" cy="541.9" rx="30.9" ry="26.8" transform="rotate(-17.4 193.3 541.9)" fill="#f3f7ec" stroke="#3a7252" stroke-width="10.5"/>
<ellipse cx="229.3" cy="581.7" rx="27.9" ry="24.2" transform="rotate(9.4 229.3 581.7)" fill="#f3f7ec" stroke="#3a7252" stroke-width="10.5"/>
<ellipse cx="272.9" cy="609.5" rx="30.4" ry="26.4" transform="rotate(-39.8 272.9 609.5)" fill="#f3f7ec" stroke="#3a7252" stroke-width="10.5"/>
<ellipse cx="319.2" cy="645" rx="31.1" ry="26.9" transform="rotate(-12.7 319.2 645)" fill="#f3f7ec" stroke="#3a7252" stroke-width="10.5"/>
<ellipse cx="82" cy="560.5" rx="26.9" ry="23.3" transform="rotate(-27.5 82 560.5)" fill="#f3f7ec" stroke="#3a7252" stroke-width="10.5"/>
<ellipse cx="132.5" cy="572.3" rx="30.2" ry="26.2" transform="rotate(-2.1 132.5 572.3)" fill="#f3f7ec" stroke="#3a7252" stroke-width="10.5"/>
<ellipse cx="173.2" cy="601.6" rx="28.5" ry="24.7" transform="rotate(-23.1 173.2 601.6)" fill="#f3f7ec" stroke="#3a7252" stroke-width="10.5"/>
<ellipse cx="213.1" cy="626.7" rx="30.1" ry="26.1" transform="rotate(33.3 213.1 626.7)" fill="#f3f7ec" stroke="#3a7252" stroke-width="10.5"/>
<ellipse cx="232.5" cy="314.4" rx="26.5" ry="21.2" transform="rotate(101.4 232.5 314.4)" fill="#d3e6b4" stroke="#449c58" stroke-width="11.1"/>
<ellipse cx="218.1" cy="363.5" rx="22.3" ry="17.8" transform="rotate(118.2 218.1 363.5)" fill="#d3e6b4" stroke="#449c58" stroke-width="13"/>
<ellipse cx="230.6" cy="400.2" rx="24.1" ry="19.3" transform="rotate(58.3 230.6 400.2)" fill="#d3e6b4" stroke="#449c58" stroke-width="14"/>
<ellipse cx="249.2" cy="436.2" rx="26" ry="20.8" transform="rotate(34.5 249.2 436.2)" fill="#d3e6b4" stroke="#449c58" stroke-width="14.2"/>
<ellipse cx="280.5" cy="461.3" rx="23.6" ry="18.9" transform="rotate(58.6 280.5 461.3)" fill="#d3e6b4" stroke="#449c58" stroke-width="9.7"/>
<ellipse cx="305.7" cy="501.6" rx="24" ry="19.2" transform="rotate(68.2 305.7 501.6)" fill="#d3e6b4" stroke="#449c58" stroke-width="12.6"/>
<ellipse cx="1117.4" cy="137.4" rx="31.5" ry="22.8" transform="rotate(173.4 1117.4 137.4)" fill="#e0efcc" stroke="#62b272" stroke-width="8"/>
<ellipse cx="1059.4" cy="155" rx="28.6" ry="20.7" transform="rotate(160.8 1059.4 155)" fill="#e0efcc" stroke="#62b272" stroke-width="8.3"/>
<ellipse cx="1008" cy="185.7" rx="26.1" ry="18.9" transform="rotate(153.6 1008 185.7)" fill="#e0efcc" stroke="#62b272" stroke-width="5.7"/>
<ellipse cx="954" cy="213.2" rx="30.6" ry="22.2" transform="rotate(165.3 954 213.2)" fill="#e0efcc" stroke="#62b272" stroke-width="7.3"/>
<ellipse cx="904" cy="251.2" rx="26.7" ry="19.4" transform="rotate(153.7 904 251.2)" fill="#e0efcc" stroke="#62b272" stroke-width="7.5"/>
<ellipse cx="862.1" cy="280.2" rx="27.1" ry="19.7" transform="rotate(138.1 862.1 280.2)" fill="#e0efcc" stroke="#62b272" stroke-width="5.8"/>
<ellipse cx="817.1" cy="322" rx="26.3" ry="19" transform="rotate(134.2 817.1 322)" fill="#e0efcc" stroke="#62b272" stroke-width="5.9"/>
<ellipse cx="775.2" cy="361.6" rx="25.5" ry="18.5" transform="rotate(147.9 775.2 361.6)" fill="#e0efcc" stroke="#62b272" stroke-width="6.5"/>
<ellipse cx="728.4" cy="404.3" rx="26" ry="18.9" transform="rotate(140.2 728.4 404.3)" fill="#e0efcc" stroke="#62b272" stroke-width="8.3"/>
<ellipse cx="687.4" cy="444.7" rx="30.2" ry="21.9" transform="rotate(102 687.4 444.7)" fill="#e0efcc" stroke="#62b272" stroke-width="7.9"/>
<ellipse cx="662.6" cy="501.7" rx="31.3" ry="22.7" transform="rotate(122.9 662.6 501.7)" fill="#e0efcc" stroke="#62b272" stroke-width="6.9"/>
<ellipse cx="652.2" cy="557.5" rx="32.3" ry="23.4" transform="rotate(82.1 652.2 557.5)" fill="#e0efcc" stroke="#62b272" stroke-width="7"/>
<ellipse cx="661.8" cy="610" rx="26.7" ry="19.3" transform="rotate(72.9 661.8 610)" fill="#e0efcc" stroke="#62b272" stroke-width="7.2"/>
<ellipse cx="691.9" cy="662.1" rx="28.9" ry="20.9" transform="rotate(47.9 691.9 662.1)" fill="#e0efcc" stroke="#62b272" stroke-width="6"/>
<ellipse cx="726.2" cy="709.9" rx="31.4" ry="22.8" transform="rotate(51.2 726.2 709.9)" fill="#e0efcc" stroke="#62b272" stroke-width="7.8"/>
<ellipse cx="1132.2" cy="183.9" rx="26.5" ry="20.1" transform="rotate(157.1 1132.2 183.9)" fill="#d9eac0" stroke="#4ea662" stroke-width="8.1"/>
<ellipse cx="1082.3" cy="209.8" rx="29.3" ry="22.3" transform="rotate(145.9 1082.3 209.8)" fill="#d9eac0" stroke="#4ea662" stroke-width="9"/>
<ellipse cx="1032.6" cy="233.8" rx="28.3" ry="21.5" transform="rotate(161.2 1032.6 233.8)" fill="#d9eac0" stroke="#4ea662" stroke-width="9.3"/>
<ellipse cx="988.3" cy="262.4" rx="29.6" ry="22.5" transform="rotate(130 988.3 262.4)" fill="#d9eac0" stroke="#4ea662" stroke-width="10"/>
<ellipse cx="941.1" cy="289.9" rx="29" ry="22" transform="rotate(163.5 941.1 289.9)" fill="#d9eac0" stroke="#4ea662" stroke-width="9.6"/>
<ellipse cx="894.5" cy="324.1" rx="26" ry="19.7" transform="rotate(145.3 894.5 324.1)" fill="#d9eac0" stroke="#4ea662" stroke-width="8.8"/>
<ellipse cx="852.3" cy="358.4" rx="26.5" ry="20.1" transform="rotate(148.9 852.3 358.4)" fill="#d9eac0" stroke="#4ea662" stroke-width="8.1"/>
<ellipse cx="809.4" cy="398.6" rx="32.1" ry="24.3" transform="rotate(142.9 809.4 398.6)" fill="#d9eac0" stroke="#4ea662" stroke-width="7.7"/>
<ellipse cx="766.4" cy="436.1" rx="26" ry="19.7" transform="rotate(127.8 766.4 436.1)" fill="#d9eac0" stroke="#4ea662" stroke-width="7.6"/>
<ellipse cx="736" cy="480.7" rx="31.6" ry="23.9" transform="rotate(126 736 480.7)" fill="#d9eac0" stroke="#4ea662" stroke-width="7.3"/>
<ellipse cx="705.9" cy="529.7" rx="25.8" ry="19.6" transform="rotate(97.4 705.9 529.7)" fill="#d9eac0" stroke="#4ea662" stroke-width="10.1"/>
<ellipse cx="703.1" cy="580.5" rx="29.9" ry="22.7" transform="rotate(66.3 703.1 580.5)" fill="#d9eac0" stroke="#4ea662" stroke-width="7.8"/>
<ellipse cx="735.3" cy="626.9" rx="26.6" ry="20.2" transform="rotate(52.7 735.3 626.9)" fill="#d9eac0" stroke="#4ea662" stroke-width="7.9"/>
<ellipse cx="769" cy="671.4" rx="30.6" ry="23.2" transform="rotate(60.5 769 671.4)" fill="#d9eac0" stroke="#4ea662" stroke-width="10"/>
<ellipse cx="985.9" cy="243.7" rx="30.4" ry="21.7" transform="rotate(-19.8 985.9 243.7)" fill="#dcebc6" stroke="#35604a" stroke-width="9"/>
<ellipse cx="960.4" cy="275.2" rx="30.3" ry="21.6" transform="rotate(-6.3 960.4 275.2)" fill="#dcebc6" stroke="#35604a" stroke-width="9"/>
<ellipse cx="757.4" cy="462.5" rx="28.4" ry="24.1" transform="rotate(13.7 757.4 462.5)" fill="#d9eac0" stroke="#356e50" stroke-width="8"/>
<ellipse cx="708.7" cy="522.3" rx="27.7" ry="23.4" transform="rotate(3.6 708.7 522.3)" fill="#d9eac0" stroke="#356e50" stroke-width="8"/>
<ellipse cx="661.3" cy="553.7" rx="27.9" ry="23.6" transform="rotate(21.1 661.3 553.7)" fill="#d9eac0" stroke="#356e50" stroke-width="8"/>
<ellipse cx="760" cy="554" rx="26.5" ry="22.5" transform="rotate(-39.5 760 554)" fill="#d9eac0" stroke="#356e50" stroke-width="8"/>
<ellipse cx="704.2" cy="608.4" rx="27.3" ry="23.1" transform="rotate(33.2 704.2 608.4)" fill="#d9eac0" stroke="#356e50" stroke-width="8"/>
<ellipse cx="690" cy="658" rx="24.7" ry="20.9" transform="rotate(38.1 690 658)" fill="#d9eac0" stroke="#356e50" stroke-width="8"/>
<path d="M835 228 C740 300 650 380 625 470 C610 540 640 610 735 690" fill="none" stroke="#8f988f" stroke-width="20" stroke-linecap="butt" />
<path d="M835 228 C740 300 650 380 625 470 C610 540 640 610 735 690" fill="none" stroke="#fdfdf8" stroke-width="13" stroke-linecap="butt" />
<path d="M800 170 L850 260 L890 400" fill="none" stroke="#7f867f" stroke-width="3" stroke-linejoin="round" stroke-linecap="round" />
<polygon points="440,410 545,405 548,480 520,600 420,575 430,490 445,490" fill="#fdfdfd" stroke="#8a918a" stroke-width="3" />
<polygon points="545,405 575,385 622,400 600,550 560,552 548,480" fill="#fdfdfd" stroke="#8a918a" stroke-width="3" />
<path d="M535 290 L540 405" fill="none" stroke="#8a918a" stroke-width="4" stroke-linejoin="round" stroke-linecap="round" />
<polygon points="340,494 422,510 412,556 332,536" fill="#7db8ea" stroke="#5c88b0" stroke-width="3" />
<rect x="440" y="622" width="120" height="14" fill="#cfe3ea"/>
<ellipse cx="561.1" cy="261.7" rx="28.1" ry="20.1" transform="rotate(-13.3 561.1 261.7)" fill="#d4e4b0" stroke="#3a8552" stroke-width="7.8"/>
<ellipse cx="616.2" cy="251" rx="25.5" ry="18.2" transform="rotate(-15.8 616.2 251)" fill="#d4e4b0" stroke="#3a8552" stroke-width="9.2"/>
<ellipse cx="678.2" cy="226.7" rx="27.2" ry="19.4" transform="rotate(-35.6 678.2 226.7)" fill="#d4e4b0" stroke="#3a8552" stroke-width="8.1"/>
<ellipse cx="737" cy="212.4" rx="25.1" ry="17.9" transform="rotate(1.2 737 212.4)" fill="#d4e4b0" stroke="#3a8552" stroke-width="8.4"/>
<ellipse cx="790.6" cy="192.3" rx="26.1" ry="18.7" transform="rotate(-28.5 790.6 192.3)" fill="#d4e4b0" stroke="#3a8552" stroke-width="8.3"/>
<ellipse cx="112.8" cy="238.8" rx="25.7" ry="23.9" transform="rotate(29.2 112.8 238.8)" fill="#d4e4b0" stroke="#2f7a4a" stroke-width="12.4"/>
<ellipse cx="164.7" cy="241.3" rx="29.4" ry="27.3" transform="rotate(-6.5 164.7 241.3)" fill="#d4e4b0" stroke="#2f7a4a" stroke-width="13.6"/>
<ellipse cx="216.4" cy="255.5" rx="29.7" ry="27.6" transform="rotate(3.3 216.4 255.5)" fill="#d4e4b0" stroke="#2f7a4a" stroke-width="11"/>
<ellipse cx="272.4" cy="257.4" rx="27.4" ry="25.4" transform="rotate(23.5 272.4 257.4)" fill="#d4e4b0" stroke="#2f7a4a" stroke-width="11.2"/>
<ellipse cx="324.4" cy="262.6" rx="27.6" ry="25.7" transform="rotate(-6.8 324.4 262.6)" fill="#d4e4b0" stroke="#2f7a4a" stroke-width="11.6"/>
<ellipse cx="376.4" cy="259.3" rx="30.1" ry="28" transform="rotate(-1.3 376.4 259.3)" fill="#d4e4b0" stroke="#2f7a4a" stroke-width="11.8"/>
<ellipse cx="430.1" cy="248.7" rx="25.4" ry="23.6" transform="rotate(-49.9 430.1 248.7)" fill="#d4e4b0" stroke="#2f7a4a" stroke-width="12.4"/>
<ellipse cx="476.4" cy="229.8" rx="26.8" ry="24.9" transform="rotate(14.5 476.4 229.8)" fill="#d4e4b0" stroke="#2f7a4a" stroke-width="14.1"/>
<ellipse cx="530.8" cy="232.5" rx="25.8" ry="23.9" transform="rotate(7.2 530.8 232.5)" fill="#d4e4b0" stroke="#2f7a4a" stroke-width="11"/>
<ellipse cx="582.4" cy="218.9" rx="30.5" ry="28.3" transform="rotate(-23.5 582.4 218.9)" fill="#d4e4b0" stroke="#2f7a4a" stroke-width="12.9"/>
<ellipse cx="633.5" cy="195.9" rx="25.2" ry="23.4" transform="rotate(-39.7 633.5 195.9)" fill="#d4e4b0" stroke="#2f7a4a" stroke-width="10.3"/>
<ellipse cx="682.2" cy="174.5" rx="25.9" ry="24.1" transform="rotate(-31.6 682.2 174.5)" fill="#d4e4b0" stroke="#2f7a4a" stroke-width="11.2"/>
<ellipse cx="734.5" cy="157.5" rx="30" ry="27.8" transform="rotate(-19.2 734.5 157.5)" fill="#d4e4b0" stroke="#2f7a4a" stroke-width="9.8"/>
<ellipse cx="785" cy="137.3" rx="25.4" ry="23.6" transform="rotate(-33.3 785 137.3)" fill="#d4e4b0" stroke="#2f7a4a" stroke-width="11.8"/>
<ellipse cx="829.7" cy="118" rx="28.9" ry="26.8" transform="rotate(-20.1 829.7 118)" fill="#d4e4b0" stroke="#2f7a4a" stroke-width="10.8"/>
<ellipse cx="884.2" cy="88.4" rx="34.1" ry="22.4" transform="rotate(-18.5 884.2 88.4)" fill="#d9e6bc" stroke="#2f7a4a" stroke-width="10.7"/>
<ellipse cx="970.3" cy="71.9" rx="30.6" ry="20.1" transform="rotate(-10.3 970.3 71.9)" fill="#d9e6bc" stroke="#2f7a4a" stroke-width="11.3"/>
<ellipse cx="1063.2" cy="75.6" rx="35.4" ry="23.2" transform="rotate(-5.9 1063.2 75.6)" fill="#d9e6bc" stroke="#2f7a4a" stroke-width="13"/>
<ellipse cx="847.1" cy="183.1" rx="20.5" ry="11.2" transform="rotate(-12.7 847.1 183.1)" fill="#d6e2b4" stroke="#3f8a58" stroke-width="7.2"/>
<ellipse cx="897.8" cy="166.2" rx="23" ry="12.6" transform="rotate(-12.4 897.8 166.2)" fill="#d6e2b4" stroke="#3f8a58" stroke-width="7.9"/>
<ellipse cx="949.8" cy="156.5" rx="24.4" ry="13.3" transform="rotate(-28.9 949.8 156.5)" fill="#d6e2b4" stroke="#3f8a58" stroke-width="9.1"/>
<ellipse cx="998.7" cy="137.7" rx="20.1" ry="11" transform="rotate(-1.7 998.7 137.7)" fill="#d6e2b4" stroke="#3f8a58" stroke-width="7.6"/>
<ellipse cx="1043.1" cy="118.2" rx="21.1" ry="11.5" transform="rotate(-11.3 1043.1 118.2)" fill="#d6e2b4" stroke="#3f8a58" stroke-width="8.4"/>
<ellipse cx="1097.6" cy="103" rx="23.5" ry="12.8" transform="rotate(-25.6 1097.6 103)" fill="#d6e2b4" stroke="#3f8a58" stroke-width="8"/>
<circle cx="670" cy="290" r="11" fill="#fdfdfb" stroke="#8a918a" stroke-width="3"/>
<rect x="275" y="310" width="78" height="62" fill="#ece6cc" stroke="#c9b9a0" stroke-width="3"/>
<path d="M90 660 C150 640 200 625 250 622" fill="none" stroke="#7f867f" stroke-width="3" stroke-linecap="butt" />
<path d="M110 676 C170 655 230 648 280 652" fill="none" stroke="#7f867f" stroke-width="2" stroke-linecap="butt" />
</svg>
</div>


<!-- table rules -->
<div class="hl" style="top:343.9px"></div>
<div class="hl" style="top:388.6px"></div>
<div class="hl" style="top:437.2px"></div>
<div class="hl" style="top:485.7px"></div>
<div class="hl faint" style="top:530px"></div>
<div class="hl" style="top:578px"></div>
<div class="hl" style="top:621.8px"></div>
<div class="hl" style="top:665.7px"></div>
<div class="hl" style="top:705px"></div>

<!-- legend dots -->
<div class="ldot r" style="left:134px;top:321.3px"></div>
<div class="ldot y" style="left:189.6px;top:321.3px"></div>
<div class="ldot g" style="left:240.3px;top:321.3px"></div>

<!-- rating dots: column A -->
<div class="dot g" style="left:407.4px;top:349.6px"></div>
<div class="dot g" style="left:407.4px;top:399.5px"></div>
<div class="dot g" style="left:407.4px;top:493.7px"></div>
<div class="dot y" style="left:407.4px;top:542.0px"></div>
<div class="dot g" style="left:407.4px;top:585.7px"></div>
<div class="dot g" style="left:407.4px;top:629.2px"></div>
<!-- column B -->
<div class="dot g" style="left:648.8px;top:349.6px"></div>
<div class="dot g" style="left:648.8px;top:399.5px"></div>
<div class="dot g" style="left:648.8px;top:493.7px"></div>
<div class="dot y" style="left:648.8px;top:542.0px"></div>
<div class="dot g" style="left:648.8px;top:585.7px"></div>
<div class="dot y" style="left:648.8px;top:629.2px"></div>
<!-- column C -->
<div class="dot g" style="left:898.6px;top:349.6px"></div>
<div class="dot g" style="left:898.6px;top:399.5px"></div>
<div class="dot y" style="left:898.6px;top:493.7px"></div>
<div class="dot g" style="left:898.6px;top:542.0px"></div>
<div class="dot g" style="left:898.6px;top:585.7px"></div>
<div class="dot g" style="left:898.6px;top:629.2px"></div>

<!-- footer -->
<div style="position:absolute;left:159.2px;top:725.7px;width:560px;height:2.2px;background:#7a7a7a"></div>
<div style="position:absolute;left:718.8px;top:713.7px;width:465.4px;height:12.2px;background:#b9d23f"></div>
<div style="position:absolute;left:718.8px;top:725.8px;width:465.4px;height:29.7px;background:#7c7c7c"></div>
<svg style="position:absolute;left:8.6px;top:695px" width="80" height="60" viewBox="0 0 80 60">
  <path d="M39.5 21.5 A15 15.4 0 1 0 40.8 39.5 L40.8 35 L30 35" fill="none" stroke="#d0d0d0" stroke-width="1.3"/>
  <path d="M49.3 14 L49.3 40 M30 35 L50 35 L57.5 30 M50 35 L46 44" fill="none" stroke="#d6d6d6" stroke-width="1.3"/>
</svg>

<div class="t" id="t0" style="left:35px;top:29px;font-size:49.71px;font-weight:700;color:#575757;text-shadow:0 0.60px 0 currentColor,0 -0.60px 0 currentColor;transform:translate(0.83px,0.14px) scale(0.8728,0.9308)">SITE</div>
<div class="t" id="t1" style="left:148px;top:29px;font-size:49.71px;font-weight:700;color:#575757;text-shadow:0 0.60px 0 currentColor,0 -0.60px 0 currentColor;transform:translate(0.65px,0.36px) scale(0.9569,0.9310)">EVALUATION</div>
<div class="t" id="t2" style="left:465px;top:29px;font-size:46.86px;font-weight:700;color:#575757;text-shadow:0 0.60px 0 currentColor,0 -0.60px 0 currentColor;transform:translate(0.86px,0.90px) scale(1.0249,0.9490)">MATRIX</div>
<div class="t" id="t3" style="left:138px;top:98px;font-size:31.29px;font-weight:700;color:#ffffff;text-shadow:0.39px 0 0 currentColor,-0.39px 0 0 currentColor;transform:translate(0.16px,0.27px) scale(0.9679,1.0070)">DRAFT</div>
<div class="t" id="t4" style="left:148px;top:261px;font-size:25.43px;font-weight:700;color:#636363;text-shadow:0 0.30px 0 currentColor,0 -0.30px 0 currentColor,0.45px 0 0 currentColor,-0.45px 0 0 currentColor;transform:translate(1.00px,0.98px) scale(0.9640,0.9523)">EVALUATION</div>
<div class="t" id="t5" style="left:149px;top:290px;font-size:24.29px;font-weight:700;color:#636363;text-shadow:0 0.30px 0 currentColor,0 -0.30px 0 currentColor,0.66px 0 0 currentColor,-0.66px 0 0 currentColor;transform:translate(0.87px,0.63px) scale(0.9106,0.9639)">CRITERIA</div>
<div class="t" id="t6" style="left:368px;top:265px;font-size:24.86px;font-weight:700;color:#4c4c4c;text-shadow:0.18px 0 0 currentColor,-0.18px 0 0 currentColor;transform:translate(0.46px,0.05px) scale(0.9897,0.9530)">OPTION A</div>
<div class="t" id="t7" style="left:361px;top:292px;font-size:16.86px;font-weight:700;color:#4c4c4c;text-shadow:0.20px 0 0 currentColor,-0.20px 0 0 currentColor;transform:translate(0.32px,0.13px) scale(0.9761,0.9918)">HILL “ALL NEW”</div>
<div class="t" id="t8" style="left:611px;top:264px;font-size:24.86px;font-weight:700;color:#4c4c4c;text-shadow:0.23px 0 0 currentColor,-0.23px 0 0 currentColor;transform:translate(0.59px,0.97px) scale(0.9647,0.9578)">OPTION B</div>
<div class="t" id="t9" style="left:613px;top:292px;font-size:16.86px;font-weight:700;color:#4c4c4c;text-shadow:0.23px 0 0 currentColor,-0.23px 0 0 currentColor;transform:translate(0.61px,0.22px) scale(0.9567,0.9334)">HILL “REUSE”</div>
<div class="t" id="t10" style="left:857px;top:265px;font-size:24.86px;font-weight:700;color:#4c4c4c;text-shadow:0.19px 0 0 currentColor,-0.19px 0 0 currentColor;transform:translate(0.48px,0.08px) scale(0.9837,0.9524)">OPTION C</div>
<div class="t" id="t11" style="left:887px;top:292px;font-size:16.86px;font-weight:700;color:#4c4c4c;text-shadow:0.30px 0 0 currentColor,-0.30px 0 0 currentColor;transform:translate(0.31px,0.04px) scale(0.9125,0.9958)">VALLEY</div>
<div class="t" id="t12" style="left:152px;top:322px;font-size:16.43px;font-weight:400;color:#666666;text-shadow:0.55px 0 0 currentColor,-0.55px 0 0 currentColor;transform:translate(0.05px,0.78px) scale(0.6001,0.9417)">POOR</div>
<div class="t" id="t13" style="left:208px;top:322px;font-size:16.43px;font-weight:400;color:#666666;text-shadow:0.52px 0 0 currentColor,-0.52px 0 0 currentColor;transform:translate(0.53px,0.94px) scale(0.6156,0.9724)">FAIR</div>
<div class="t" id="t14" style="left:259px;top:323px;font-size:16.43px;font-weight:400;color:#666666;text-shadow:0.68px 0 0 currentColor,-0.68px 0 0 currentColor;transform:translate(0.65px,0.01px) scale(0.5428,0.9285)">EXCELLENT</div>
<div class="t" id="t15" style="left:148px;top:358px;font-size:21.43px;font-weight:700;color:#525252;text-shadow:0.91px 0 0 currentColor,-0.91px 0 0 currentColor,0.21px 0 0 currentColor,-0.21px 0 0 currentColor;transform:translate(0.36px,0.08px) scale(0.6440,0.9522)">ACCESSIBILITY</div>
<div class="t" id="t16" style="left:148px;top:404px;font-size:21.71px;font-weight:700;color:#525252;text-shadow:0.73px 0 0 currentColor,-0.73px 0 0 currentColor;transform:translate(0.37px,0.21px) scale(0.6888,0.9429)">VISIBILITY</div>
<div class="t" id="t17" style="left:147px;top:440px;font-size:21.29px;font-weight:700;color:#525252;text-shadow:0.65px 0 0 currentColor,-0.65px 0 0 currentColor;transform:translate(0.81px,0.67px) scale(0.7241,0.9959)">BUILDING/PARK</div>
<div class="t" id="t18" style="left:147px;top:466px;font-size:21.71px;font-weight:700;color:#525252;text-shadow:0.78px 0 0 currentColor,-0.78px 0 0 currentColor,0.08px 0 0 currentColor,-0.08px 0 0 currentColor;transform:translate(0.83px,0.40px) scale(0.6743,0.9257)">RELATIONSHIP</div>
<div class="t" id="t19" style="left:222px;top:497px;font-size:18.00px;font-weight:700;color:#525252;text-shadow:0.46px 0 0 currentColor,-0.46px 0 0 currentColor;transform:translate(0.78px,0.86px) scale(0.7248,0.9804)">Park Open Space</div>
<div class="t" id="t20" style="left:148px;top:542px;font-size:18.14px;font-weight:700;color:#525252;text-shadow:0.44px 0 0 currentColor,-0.44px 0 0 currentColor;transform:translate(0.89px,0.28px) scale(0.7292,0.8949)">Indoor-Outdoor Connections</div>
<div class="t" id="t21" style="left:148px;top:591px;font-size:21.43px;font-weight:700;color:#525252;text-shadow:0.71px 0 0 currentColor,-0.71px 0 0 currentColor;transform:translate(0.31px,0.52px) scale(0.7002,0.9714)">PARKING</div>
<div class="t" id="t22" style="left:148px;top:634px;font-size:21.71px;font-weight:700;color:#525252;text-shadow:1.02px 0 0 currentColor,-1.02px 0 0 currentColor,0.32px 0 0 currentColor,-0.32px 0 0 currentColor;transform:translate(0.70px,0.91px) scale(0.6098,0.9339)">COST</div>
<div class="t" id="t23" style="left:148px;top:677px;font-size:21.29px;font-weight:700;color:#525252;text-shadow:0.86px 0 0 currentColor,-0.86px 0 0 currentColor,0.16px 0 0 currentColor,-0.16px 0 0 currentColor;transform:translate(0.67px,0.64px) scale(0.6598,0.9536)">OTHER</div>
<div class="t" id="t24" style="left:658px;top:634px;font-size:23.14px;font-weight:700;color:#e5281c;text-shadow:0.14px 0 0 currentColor,-0.14px 0 0 currentColor;transform:translate(0.31px,0.03px) scale(0.8520,0.9793)">?</div>
<div class="t" id="t25" style="left:590px;top:732px;font-size:17.14px;font-weight:400;color:#969696;letter-spacing:0.04em;transform:translate(0.12px,0.80px) scale(0.9322,0.9299)">05/17/18</div>
<div class="t" id="t26" style="left:693px;top:731px;font-size:17.14px;font-weight:400;color:#969696;letter-spacing:0.08em;transform:translate(0.07px,0.20px) scale(0.9036,1.0258)">14</div>
<div class="t" id="t27" style="left:794px;top:727px;font-size:17.14px;font-weight:400;color:#f0f0f0;letter-spacing:0.07em;transform:translate(0.82px,0.84px) scale(0.8800,1.0301)">SAN BRUNO RECREATION &amp; AQUATICS CENTER</div>
<div class="t" id="t28" style="left:1057px;top:747px;font-size:8.86px;font-weight:400;color:#dedede;letter-spacing:0.08em;transform:translate(0.79px,0.38px) scale(1.1699,1.0080)">CONCEPTUAL DESIGN</div>
<div class="t" id="t29" style="left:82px;top:726px;font-size:5.86px;font-weight:700;color:#222222;letter-spacing:0.9em;text-shadow:0.14px 0 0 currentColor,-0.14px 0 0 currentColor;transform:translate(0.10px,0.18px) scale(1.1863,1.0114)">GROUP 4</div>
</div>
</body>
</html>
